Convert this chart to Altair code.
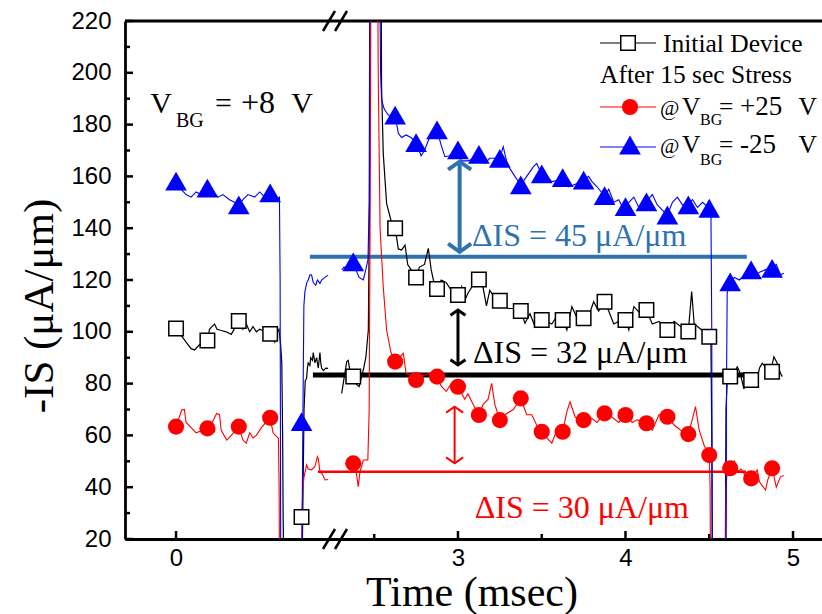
import altair as alt
import pandas as pd

# ---------------- data (time in msec, current in uA/um) ----------------
black_left = [(0.0, 101.3), (0.06, 96), (0.09, 93.5), (0.11, 93), (0.14, 95), (0.1875, 96.6), (0.20, 101),
              (0.215, 102), (0.23, 103), (0.245, 101), (0.27, 100.5), (0.30, 100), (0.33, 99), (0.375, 104.2),
              (0.40, 101), (0.42, 103), (0.44, 100), (0.46, 102), (0.48, 100), (0.50, 101), (0.5625, 99.2),
              (0.59, 96), (0.605, 100), (0.615, 101), (0.625, 95), (0.632, 88), (0.637, 60), (0.64, 30),
              (0.645, 0), (0.752, 0), (0.757, 28.5), (0.765, 70), (0.772, 81), (0.78, 82), (0.785, 86),
              (0.79, 88), (0.80, 87), (0.805, 90), (0.815, 89), (0.82, 92), (0.83, 88), (0.84, 90), (0.85, 86),
              (0.86, 92), (0.865, 88), (0.87, 86), (0.88, 85), (0.895, 86), (0.909, 85.9)]
black_right = [(2.306, 76.2), (2.315, 80), (2.336, 88.5), (2.345, 89), (2.355, 85), (2.366, 80.1), (2.375, 82.7),
               (2.39, 80), (2.41, 78.8), (2.435, 85.3), (2.45, 90), (2.465, 100.7), (2.472, 150), (2.476, 250),
               (2.54, 250), (2.544, 194.6), (2.554, 168.9), (2.574, 149.6), (2.60, 143), (2.625, 140),
               (2.644, 132), (2.664, 131.6), (2.684, 133.5), (2.70, 126), (2.72, 124), (2.75, 121), (2.77, 125),
               (2.80, 126), (2.823, 132.2), (2.84, 124), (2.86, 118), (2.875, 116.5), (2.90, 120), (2.93, 119),
               (2.96, 116), (3.0, 114.2), (3.022, 117.4), (3.04, 112), (3.06, 115), (3.09, 118), (3.125, 120.2),
               (3.15, 117), (3.17, 110), (3.19, 116), (3.22, 113), (3.25, 112), (3.28, 110), (3.30, 109),
               (3.34, 109), (3.375, 108), (3.40, 103.3), (3.43, 107), (3.46, 102), (3.48, 106), (3.5, 104.6),
               (3.53, 104), (3.56, 103), (3.59, 106), (3.625, 104.6), (3.65, 100.7), (3.68, 109.7), (3.72, 104),
               (3.75, 105.2), (3.78, 106), (3.81, 111.6), (3.84, 108), (3.875, 111.6), (3.90, 108), (3.93, 103),
               (3.96, 104), (4.0, 104.6), (4.02, 100.7), (4.05, 109.7), (4.09, 107), (4.125, 108.4), (4.16, 103),
               (4.20, 104), (4.25, 100.7), (4.29, 104), (4.33, 102), (4.375, 100.1), (4.395, 115.5), (4.41, 103),
               (4.45, 101), (4.5, 98.1), (4.51, 96), (4.515, 60), (4.52, 0), (4.595, 0), (4.60, 70), (4.607, 80.1),
               (4.616, 82.7), (4.64, 83), (4.667, 86.5), (4.685, 84), (4.706, 78.2), (4.73, 79), (4.75, 81.4),
               (4.78, 80), (4.80, 86), (4.816, 87.8), (4.84, 86), (4.866, 84.6), (4.886, 90.4), (4.905, 88),
               (4.925, 84), (4.936, 82.7)]
red_left = [(0.0, 63.4), (0.034, 69.8), (0.05, 70), (0.06, 65), (0.09, 63), (0.12, 61), (0.1875, 62.7),
            (0.215, 65), (0.243, 68.5), (0.26, 68), (0.27, 62), (0.303, 58.2), (0.33, 60), (0.375, 63.4),
            (0.40, 58.2), (0.42, 57), (0.44, 61), (0.46, 59), (0.48, 60), (0.51, 63), (0.5625, 66.8), (0.58, 61),
            (0.601, 59.5), (0.612, 59), (0.616, 40), (0.619, 0), (0.75, 0), (0.753, 30), (0.758, 40),
            (0.765, 44), (0.78, 48.6), (0.79, 47), (0.81, 46.7), (0.83, 48), (0.845, 51.8), (0.85, 51),
            (0.86, 46), (0.875, 45), (0.89, 42.8), (0.909, 43)]
red_right = [(2.336, 49.2), (2.36, 47), (2.376, 49.2), (2.39, 47), (2.405, 40.2), (2.415, 46), (2.435, 50.5),
             (2.462, 50.5), (2.47, 70), (2.476, 150), (2.481, 250), (2.52, 250), (2.524, 200), (2.535, 140),
             (2.554, 117.4), (2.574, 100.7), (2.60, 92), (2.625, 88.5), (2.65, 90), (2.674, 91.7), (2.69, 84),
             (2.72, 83), (2.75, 81.4), (2.79, 83), (2.83, 84), (2.875, 82.7), (2.90, 79), (2.93, 77), (2.96, 80),
             (3.0, 78.8), (3.04, 74), (3.06, 76), (3.09, 72), (3.125, 67.9), (3.15, 72), (3.18, 74),
             (3.201, 80.1), (3.22, 72), (3.25, 65.9), (3.28, 68), (3.33, 70), (3.375, 74.3), (3.41, 68),
             (3.44, 68), (3.47, 64), (3.5, 61.4), (3.53, 59), (3.56, 57), (3.59, 62), (3.625, 61.4),
             (3.65, 69.2), (3.669, 73), (3.70, 67), (3.75, 65.9), (3.79, 67), (3.83, 65), (3.875, 68.5),
             (3.92, 67), (3.96, 65), (4.0, 67.9), (4.04, 65), (4.07, 66), (4.125, 64.7), (4.16, 62), (4.2, 68),
             (4.25, 67.2), (4.29, 64), (4.33, 62), (4.375, 60.5), (4.398, 66), (4.418, 71.1), (4.44, 62),
             (4.47, 56), (4.5, 52.4), (4.505, 40), (4.508, 0), (4.595, 0), (4.60, 40), (4.607, 46),
             (4.627, 47.3), (4.65, 50), (4.667, 46), (4.69, 47), (4.72, 44), (4.75, 43.4), (4.786, 46.7),
             (4.80, 42), (4.836, 38.9), (4.85, 43), (4.876, 47.3), (4.90, 40), (4.925, 44), (4.945, 44.5)]
blue_left = [(0.0, 158.2), (0.03, 155), (0.06, 153), (0.09, 152), (0.12, 154), (0.15, 153), (0.1875, 155.5),
             (0.22, 154), (0.25, 152), (0.28, 153), (0.32, 151), (0.35, 150), (0.375, 149), (0.40, 151),
             (0.43, 153), (0.47, 152), (0.50, 154), (0.53, 152), (0.5625, 153.6), (0.58, 152), (0.60, 151),
             (0.618, 152), (0.622, 120), (0.626, 0), (0.752, 0), (0.755, 40), (0.758, 65.3), (0.764, 110),
             (0.77, 115.4), (0.78, 118.7), (0.79, 120), (0.80, 122), (0.81, 121.9), (0.82, 119), (0.835, 118),
             (0.845, 120), (0.86, 118.7), (0.87, 120), (0.89, 121), (0.909, 121.9)]
blue_right = [(2.306, 123.9), (2.32, 125), (2.34, 124), (2.376, 127), (2.39, 124), (2.41, 121), (2.435, 120),
              (2.45, 124), (2.463, 128), (2.47, 150), (2.474, 250), (2.532, 250), (2.538, 200), (2.544, 189.5),
              (2.56, 186), (2.58, 184), (2.60, 183), (2.625, 183.7), (2.644, 176.6), (2.664, 175), (2.69, 176),
              (2.72, 175), (2.75, 173), (2.78, 168), (2.80, 170), (2.83, 175), (2.875, 177.9), (2.90, 172),
              (2.922, 167.6), (2.95, 168), (3.0, 170.2), (3.02, 166), (3.06, 166), (3.125, 167.6), (3.16, 165),
              (3.19, 167), (3.25, 167), (3.27, 171.5), (3.29, 166), (3.31, 163), (3.34, 160), (3.375, 156.7),
              (3.41, 160), (3.45, 163.7), (3.47, 165), (3.5, 160.8), (3.53, 160), (3.56, 158), (3.625, 158.9),
              (3.66, 156), (3.70, 157), (3.75, 158.6), (3.78, 160), (3.80, 158), (3.83, 156), (3.875, 152.4),
              (3.90, 155), (3.93, 150), (3.96, 151), (3.99, 147), (4.02, 150), (4.05, 152), (4.08, 148),
              (4.125, 150.2), (4.16, 153), (4.19, 149), (4.22, 147), (4.25, 145.1), (4.28, 150), (4.31, 152),
              (4.34, 149), (4.375, 149), (4.40, 151), (4.43, 148), (4.46, 150), (4.5, 147.7), (4.51, 146),
              (4.515, 100), (4.518, 0), (4.60, 0), (4.603, 80), (4.607, 115), (4.627, 119.3), (4.65, 121),
              (4.68, 120), (4.71, 122), (4.75, 123.9), (4.77, 121), (4.80, 123), (4.836, 124), (4.875, 124.5),
              (4.90, 126), (4.925, 122), (4.945, 122.6)]

black_markers = [(0, 101.3), (0.1875, 96.6), (0.375, 104.2), (0.5625, 99.2), (0.75, 28.5), (2.375, 82.7),
                 (2.625, 140), (2.75, 121), (2.875, 116.5), (3.0, 114.2), (3.125, 120.2), (3.25, 112),
                 (3.375, 108), (3.5, 104.6), (3.625, 104.6), (3.75, 105.2), (3.875, 111.6), (4.0, 104.6),
                 (4.125, 108.4), (4.25, 100.7), (4.375, 100.1), (4.5, 98.1), (4.625, 82.7), (4.75, 81.4),
                 (4.875, 84.6)]
red_markers = [(0, 63.4), (0.1875, 62.7), (0.375, 63.4), (0.5625, 66.8), (2.375, 49.2), (2.625, 88.5),
               (2.75, 81.4), (2.875, 82.7), (3.0, 78.8), (3.125, 67.9), (3.25, 65.9), (3.375, 74.3), (3.5, 61.4),
               (3.625, 61.4), (3.75, 65.9), (3.875, 68.5), (4.0, 67.9), (4.125, 64.7), (4.25, 67.2),
               (4.375, 60.5), (4.5, 52.4), (4.625, 47.3), (4.75, 43.4), (4.875, 47.3)]
blue_markers = [(0, 158.2), (0.1875, 155.5), (0.375, 149), (0.5625, 153.6), (0.75, 65.3), (2.375, 127),
                (2.625, 183.7), (2.75, 173), (2.875, 178), (3.0, 170.2), (3.125, 168.5), (3.25, 167),
                (3.375, 156.7), (3.5, 161), (3.625, 159.5), (3.75, 158.6), (3.875, 152.6), (4.0, 148.3),
                (4.125, 150.2), (4.25, 145.1), (4.375, 149), (4.5, 147.7), (4.625, 119.3), (4.75, 123.9),
                (4.875, 124.5)]

# reference levels: (level, t_start, t_end)
ref_blue = (129.0, 0.80, 4.724)
ref_black = (83.3, 0.818, 4.776)
ref_red = (46.0, 0.848, 4.72)
# double arrows: (t, top, bottom)
arrow_blue = (3.01, 165.7, 130.9)
arrow_black = (3.0, 108.4, 87.2)
arrow_red = (2.98, 71.1, 49.2)
# delta labels: (text, t, baseline value)
delta_labels = [("ΔIS = 45 μA/μm", 3.084, 133.3), ("ΔIS = 32 μA/μm", 3.09, 88.0), ("ΔIS = 30 μA/μm", 3.10, 28.0)]

x_tick_labels = [0, 3, 4, 5]
x_minor = [2.5, 3.5, 4.5]
y_major = list(range(20, 221, 20))
y_minor = list(range(30, 220, 20))

# ---------------- chart ----------------
W, H = 697, 518
STEEL = "#2e72b0"
SERIF = "Liberation Serif, Times New Roman, Times, DejaVu Serif, serif"
SANS = "Liberation Sans, Arial, Helvetica, sans-serif"

xs = alt.Scale(domain=[-0.305, 0.95, 2.266, 5.173], range=[0, 210, 210, W], nice=False, zero=False)
ys = alt.Scale(domain=[20, 220], nice=False, zero=False)

xaxis = alt.Axis(values=x_tick_labels, ticks=False, grid=False, domainColor="black", domainWidth=2.8,
                 labelFont=SANS, labelFontSize=24, labelColor="black", labelPadding=7, labelFlush=False,
                 labelOverlap=False, title=None)
yaxis = alt.Axis(values=y_major, ticks=False, grid=False, domainColor="black", domainWidth=2.8,
                 labelFont=SANS, labelFontSize=24, labelColor="black", labelPadding=14, labelOverlap=False,
                 title=None)


def X(field="t"):
    return alt.X(f"{field}:Q", scale=xs, axis=xaxis)


def Y(field="v"):
    return alt.Y(f"{field}:Q", scale=ys, axis=yaxis)


def seg_df(*segments):
    rows = []
    for si, seg in enumerate(segments):
        for i, (t, v) in enumerate(seg):
            rows.append({"t": t, "v": v, "seg": si, "i": i})
    return pd.DataFrame(rows)


def pts_df(pts):
    return pd.DataFrame({"t": [p[0] for p in pts], "v": [p[1] for p in pts]})


one = pd.DataFrame({"a": [0]})
layers = []

# ticks (inward) with axes
layers.append(alt.Chart(pd.DataFrame({"v": y_major})).mark_rule(color="black", strokeWidth=2.5).encode(
    y=Y(), x=alt.value(0), x2=alt.value(8)))
layers.append(alt.Chart(pd.DataFrame({"v": y_minor})).mark_rule(color="black", strokeWidth=2.5).encode(
    y=Y(), x=alt.value(0), x2=alt.value(5)))
layers.append(alt.Chart(pd.DataFrame({"t": x_tick_labels})).mark_rule(color="black", strokeWidth=2.5).encode(
    x=X(), y=alt.value(H), y2=alt.value(H - 8)))
layers.append(alt.Chart(pd.DataFrame({"t": x_minor})).mark_rule(color="black", strokeWidth=2.5).encode(
    x=X(), y=alt.value(H), y2=alt.value(H - 5)))
# top frame line
layers.append(alt.Chart(one).mark_rule(color="black", strokeWidth=2.8).encode(
    x=alt.value(0), x2=alt.value(W), y=alt.value(0)))
# axis break marks
for yb in (0, H):
    for xc in (204, 216):
        layers.append(alt.Chart(one).mark_rule(color="black", strokeWidth=2.5).encode(
            x=alt.value(xc - 6), x2=alt.value(xc + 6), y=alt.value(yb + 10), y2=alt.value(yb - 10)))

# reference lines
for (lev, t1, t2), col, sw in [(ref_blue, STEEL, 4), (ref_black, "black", 5), (ref_red, "red", 2.5)]:
    d = pd.DataFrame({"t": [t1], "t2": [t2], "v": [lev]})
    layers.append(alt.Chart(d).mark_rule(color=col, strokeWidth=sw).encode(
        x=X(), x2="t2:Q", y=Y()))

# data lines
for segs, col, sw in [((black_left, black_right), "black", 1.2), ((red_left, red_right), "red", 1.1),
                      ((blue_left, blue_right), "blue", 1.1)]:
    layers.append(alt.Chart(seg_df(*segs)).mark_line(color=col, strokeWidth=sw, clip=True).encode(
        x=X(), y=Y(), detail="seg:N", order="i:Q"))

# markers
layers.append(alt.Chart(pts_df(black_markers)).mark_point(
    shape="square", filled=True, fill="white", stroke="black", strokeWidth=1.5, size=210, opacity=1).encode(
    x=X(), y=Y()))
layers.append(alt.Chart(pts_df(red_markers)).mark_point(
    shape="circle", filled=True, color="red", size=260, opacity=1).encode(x=X(), y=Y()))
layers.append(alt.Chart(pts_df(blue_markers)).mark_point(
    shape="triangle-up", filled=True, color="blue", size=470, opacity=1).encode(x=X(), y=Y()))

# double arrows
UP = "M-1,0.7L0,0L1,0.7"
DOWN = "M-1,-0.7L0,0L1,-0.7"
for (t, top, bot), col, sw, sz in [(arrow_blue, STEEL, 4, 529), (arrow_black, "black", 3, 225),
                                    (arrow_red, "red", 2, 289)]:
    d = pd.DataFrame({"t": [t], "v": [top], "v2": [bot]})
    layers.append(alt.Chart(d).mark_rule(color=col, strokeWidth=sw).encode(x=X(), y=Y(), y2="v2:Q"))
    layers.append(alt.Chart(pd.DataFrame({"t": [t], "v": [top]})).mark_point(
        shape=UP, filled=False, color=col, strokeWidth=sw, size=sz, opacity=1).encode(x=X(), y=Y()))
    layers.append(alt.Chart(pd.DataFrame({"t": [t], "v": [bot]})).mark_point(
        shape=DOWN, filled=False, color=col, strokeWidth=sw, size=sz, opacity=1).encode(x=X(), y=Y()))

# delta labels
for (s, t, v), col in zip(delta_labels, [STEEL, "black", "red"]):
    layers.append(alt.Chart(pd.DataFrame({"t": [t], "v": [v]})).mark_text(
        text=s, align="left", baseline="alphabetic", font=SERIF, fontSize=32, color=col).encode(x=X(), y=Y()))


def txt(s, x, y, size, color="black", font=SERIF, align="left", baseline="alphabetic", angle=0):
    return alt.Chart(one).mark_text(text=s, font=font, fontSize=size, color=color, align=align,
                                    baseline=baseline, angle=angle).encode(x=alt.value(x), y=alt.value(y))


# V_BG = +8 V
layers += [txt("V", 47, 92, 30, align="right"), txt("BG", 51, 106, 20), txt("=", 90, 92, 30),
           txt("+8", 116, 92, 32), txt("V", 188, 92, 30, align="right")]

# legend
layers.append(alt.Chart(one).mark_rule(color="black", strokeWidth=1.2).encode(
    x=alt.value(475), x2=alt.value(531), y=alt.value(22)))
layers.append(alt.Chart(one).mark_point(shape="square", filled=True, fill="white", stroke="black",
                                        strokeWidth=1.5, size=210, opacity=1).encode(
    x=alt.value(503), y=alt.value(22)))
layers.append(alt.Chart(one).mark_rule(color="red", strokeWidth=1.2).encode(
    x=alt.value(475), x2=alt.value(531), y=alt.value(86)))
layers.append(alt.Chart(one).mark_point(shape="circle", filled=True, color="red", size=260, opacity=1).encode(
    x=alt.value(505), y=alt.value(86)))
layers.append(alt.Chart(one).mark_rule(color="blue", strokeWidth=1.2).encode(
    x=alt.value(475), x2=alt.value(531), y=alt.value(126)))
layers.append(alt.Chart(one).mark_point(shape="triangle-up", filled=True, color="blue", size=470,
                                        opacity=1).encode(x=alt.value(505), y=alt.value(124)))
layers += [txt("Initial Device", 538, 31, 25.5), txt("After 15 sec Stress", 475, 62, 25.5)]
for base, sub, sign in [(94, 104, "+25"), (132, 144, "-25")]:
    layers += [txt("@", 535, base, 21), txt("V", 557, base, 25.5), txt("BG", 575, sub, 16),
               txt("=", 594, base, 25.5), txt(sign, 615, base, 27),
               txt("V", 692, base, 25.5, align="right")]

# axis titles
layers.append(txt("Time (msec)", 347, 585, 42, align="center"))
layers.append(txt("-IS (μA/μm)", -85, 285, 43, align="center", baseline="middle", angle=270))

chart = alt.layer(*layers).properties(
    width=W, height=H, autosize=alt.AutoSizeParams(type="none"),
    padding={"left": 125, "top": 21, "right": 0, "bottom": 75}
).configure_view(stroke=None).configure(background="white")

chart.save("out.html", embed_options={"renderer": "svg", "actions": False})
